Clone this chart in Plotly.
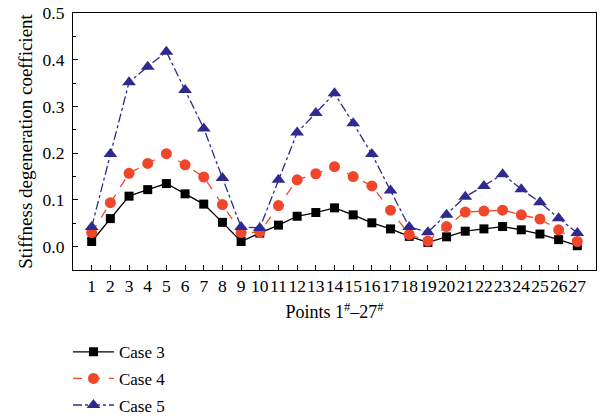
import plotly.graph_objects as go

points = list(range(1, 28))
tick_labels = [str(p) for p in points]

case3 = [0.011, 0.060, 0.108, 0.122, 0.135, 0.113, 0.091, 0.052, 0.011,
         0.029, 0.046, 0.065, 0.073, 0.083, 0.068, 0.051, 0.038, 0.022,
         0.009, 0.021, 0.033, 0.038, 0.043, 0.036, 0.027, 0.015, 0.002]
case4 = [0.030, 0.094, 0.157, 0.178, 0.199, 0.175, 0.149, 0.090, 0.030,
         0.031, 0.088, 0.143, 0.156, 0.171, 0.150, 0.130, 0.078, 0.026,
         0.012, 0.043, 0.074, 0.076, 0.078, 0.068, 0.059, 0.036, 0.011]
case5 = [0.042, 0.198, 0.352, 0.385, 0.417, 0.335, 0.253, 0.147, 0.042,
         0.040, 0.143, 0.244, 0.286, 0.328, 0.264, 0.198, 0.120, 0.042,
         0.031, 0.068, 0.107, 0.130, 0.155, 0.123, 0.095, 0.061, 0.029]

FONT = "Liberation Serif"

fig = go.Figure()
fig.add_trace(go.Scatter(x=points, y=case3, name="Case 3", mode="lines+markers",
                         legendgroup="g3",
                         line=dict(color="black", width=1.3, dash="solid"),
                         marker=dict(symbol="square", size=9, color="black")))
fig.add_trace(go.Scatter(x=points, y=case4, name="Case 4", mode="lines+markers",
                         legendgroup="g4",
                         line=dict(color="#f0472a", width=1.3, dash="dash"),
                         marker=dict(symbol="circle", size=11, color="#f0472a")))
fig.add_trace(go.Scatter(x=points, y=case5, name="Case 5", mode="lines+markers",
                         legendgroup="g5",
                         line=dict(color="#2e2a90", width=1.3, dash="dashdot"),
                         marker=dict(symbol="triangle-up", size=12, color="#2e2a90")))

fig.update_layout(
    width=602, height=417,
    margin=dict(l=73, r=6, t=13, b=147, autoexpand=False),
    paper_bgcolor="white", plot_bgcolor="white",
    font=dict(family=FONT, size=17, color="black"),
    legend=dict(x=-0.0096, y=-0.25, xanchor="left", yanchor="top",
                font=dict(family=FONT, size=17), tracegroupgap=1.5,
                itemwidth=41, bgcolor="rgba(0,0,0,0)"),
    xaxis=dict(range=[0, 28], tickmode="array", tickvals=points, ticktext=tick_labels,
               tickangle=0,
               ticks="inside", ticklen=5, tickcolor="black", tickwidth=1,
               showline=True, linecolor="black", linewidth=1.2, mirror=True,
               showgrid=False, zeroline=False,
               tickfont=dict(family=FONT, size=17.5),
               title=dict(text="Points 1<sup>#</sup>–27<sup>#</sup>", standoff=10,
                          font=dict(family=FONT, size=18))),
    yaxis=dict(range=[-0.05, 0.5], tickvals=[0, 0.1, 0.2, 0.3, 0.4, 0.5],
               ticktext=["0.0", "0.1", "0.2", "0.3", "0.4", "0.5"],
               ticks="inside", ticklen=5, tickcolor="black", tickwidth=1,
               ticklabelstandoff=4,
               minor=dict(tickvals=[-0.05, 0.05, 0.15, 0.25, 0.35, 0.45], ticks="inside",
                          ticklen=3, tickcolor="black"),
               showline=True, linecolor="black", linewidth=1.2, mirror=True,
               showgrid=False, zeroline=False,
               tickfont=dict(family=FONT, size=17.5),
               title=dict(text="Stiffness degeneration coefficient", standoff=4,
                          font=dict(family=FONT, size=19))),
)

# remove the browser's default 8px body margin so the figure sits at the page origin
fig.write_html("out.html", config={"displayModeBar": False},
               post_script="document.body.style.margin='0';document.body.style.padding='0';")
